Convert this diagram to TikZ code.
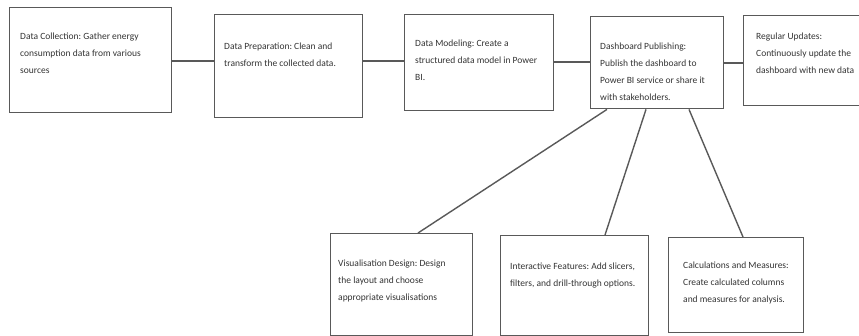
\documentclass[tikz,border=0pt]{standalone}
\usepackage{fontspec}
\setmainfont{Carlito}
\frenchspacing
\begin{document}
\begin{tikzpicture}[x=1pt,y=-1pt,
  boxst/.style={draw=black!65, line width=1.4pt, inner sep=0pt, anchor=north west},
  txt/.style={anchor=north west, inner sep=0pt, align=left, text=black!80,
    font=\fontsize{9.5}{17}\selectfont},
  conn/.style={draw=black!65, line width=1.4pt}]
\useasboundingbox (0,0) rectangle (859,336);
% boxes
\node[boxst, minimum width=162pt, minimum height=105pt] (b1) at (9,7) {};
\node[boxst, minimum width=148pt, minimum height=103pt] (b2) at (214,14) {};
\node[boxst, minimum width=149pt, minimum height=96pt] (b3) at (404,14) {};
\node[boxst, minimum width=133pt, minimum height=92pt] (b4) at (590,16) {};
\node[boxst, minimum width=130pt, minimum height=90pt] (b5) at (743,15) {};
\node[boxst, minimum width=142pt, minimum height=102pt] (b6) at (330,233) {};
\node[boxst, minimum width=148pt, minimum height=100pt] (b7) at (500,235) {};
\node[boxst, minimum width=135pt, minimum height=95pt] (b8) at (668,237) {};
% texts
\node[txt] (t1) at (20,33) {Data Collection: Gather energy\\consumption data from various\\sources};
\node[txt] (t2) at (224,43) {Data Preparation: Clean and\\transform the collected data.};
\node[txt] (t3) at (415,40) {Data Modeling: Create a\\structured data model in Power\\BI.};
\node[txt] (t4) at (600,43) {Dashboard Publishing:\\Publish the dashboard to\\Power BI service or share it\\with stakeholders.};
\node[txt] (t5) at (756,33) {Regular Updates:\\Continuously update the\\dashboard with new data};
\node[txt] (t6) at (338,260) {Visualisation Design: Design\\the layout and choose\\appropriate visualisations};
\node[txt] (t7) at (510,263) {Interactive Features: Add slicers,\\filters, and drill-through options.};
\node[txt] (t8) at (683,262) {Calculations and Measures:\\Create calculated columns\\and measures for analysis.};
% connectors
\draw[conn] (b1.east |- 0,61) -- (b2.west |- 0,61);
\draw[conn] (b2.east |- 0,61) -- (b3.west |- 0,61);
\draw[conn] (b3.east |- 0,62) -- (b4.west |- 0,62);
\draw[conn] (b4.east |- 0,63) -- (b5.west |- 0,63);
\draw[conn] (b4.south -| 607,0) -- (b6.north -| 418,0);
\draw[conn] (b4.south -| 646,0) -- (b7.north -| 605,0);
\draw[conn] (b4.south -| 689,0) -- (b8.north -| 743,0);
\end{tikzpicture}
\end{document}
